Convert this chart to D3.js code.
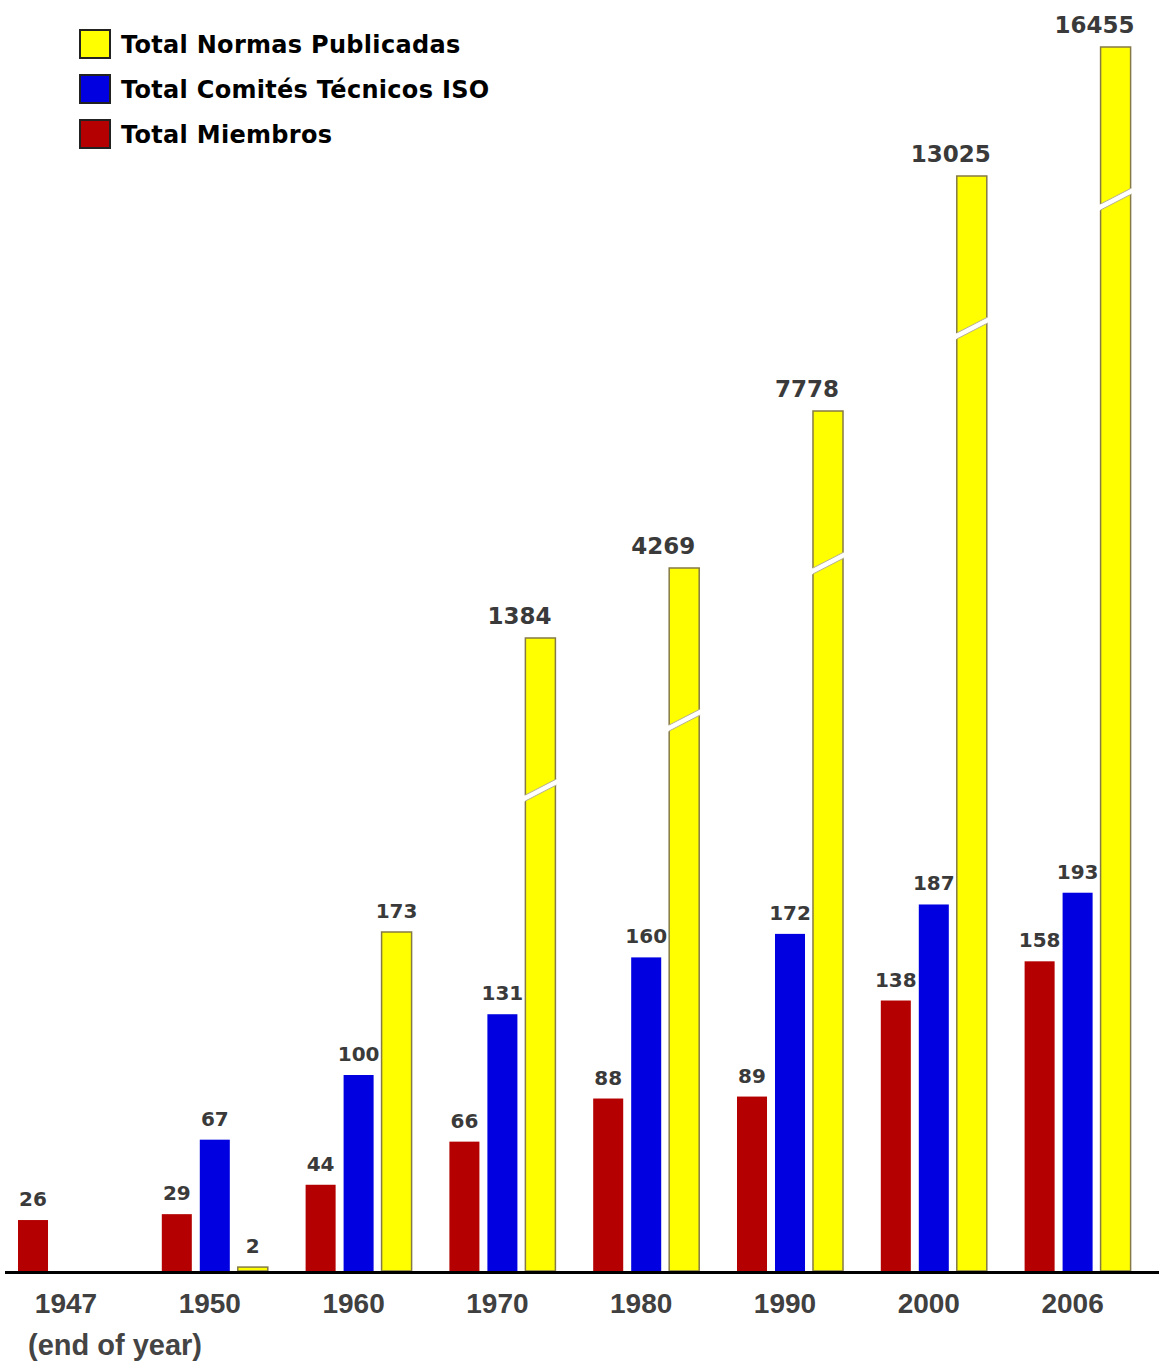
<!DOCTYPE html>
<html>
<head>
<meta charset="utf-8">
<script src="https://cdn.jsdelivr.net/npm/d3@7"></script>
<style>
  body { margin: 0; background: #fff; }
  #container { width: 1159px; height: 1363px; }
</style>
</head>
<body>
<div id="container"></div>
<script>
// ISO: miembros, comités técnicos y normas publicadas por año
var years = ["1947", "1950", "1960", "1970", "1980", "1990", "2000", "2006"]
var members = [26, 29, 44, 66, 88, 89, 138, 158]
var committees = [null, 67, 100, 131, 160, 172, 187, 193]
var standards = [null, 2, 173, 1384, 4269, 7778, 13025, 16455]

var seriesKeys = ["members", "committees", "standards"]
var legendLabels = ["Total Normas Publicadas", "Total Comités Técnicos ISO", "Total Miembros"]
var legendKeys = ["standards", "committees", "members"]
var colors = { members: "#b40000", committees: "#0000e0", standards: "#ffff00" }

var svg = d3.select("#container").append("svg")
    .attr("width", 1159)
    .attr("height", 1363)

var base = 1271

var x = d3.scaleBand()
    .domain(years)
    .range([18, 18 + 8 * 143.8])

var xs = d3.scaleBand()
    .domain(seriesKeys)
    .range([0, 106])
    .paddingInner(0.21)

// linear scale for members and committees
var y = d3.scaleLinear()
    .domain([0, 200])
    .range([base, base - 392])

// broken axis for published standards (bars drawn with a cut)
var yStd = d3.scaleLinear()
    .domain([0, 173, 1384, 4269, 7778, 13025, 16455])
    .range([base, 932, 638, 568, 411, 176, 47])

var rows = []
years.forEach(function(yr, i) {
  rows.push({ year: yr, key: "members", value: members[i] })
  rows.push({ year: yr, key: "committees", value: committees[i] })
  rows.push({ year: yr, key: "standards", value: standards[i] })
})
rows = rows.filter(function(d) { return d.value != null })

function barTop(d) {
  return d.key == "standards" ? yStd(d.value) : y(d.value)
}

function isBroken(d) {
  return d.key == "standards" && d.value > 1000
}

var bars = svg.append("g")

bars.selectAll("rect")
    .data(rows)
  .enter().append("rect")
    .attr("x", function(d) { return x(d.year) + xs(d.key) })
    .attr("y", barTop)
    .attr("width", xs.bandwidth())
    .attr("height", function(d) { return base - barTop(d) })
    .attr("fill", function(d) { return colors[d.key] })
    .attr("stroke", function(d) { return d.key == "standards" ? "#857a45" : "none" })
    .attr("stroke-width", 1.5)

// cuts on the broken yellow bars
var cuts = bars.selectAll(".cut")
    .data(rows.filter(isBroken))
  .enter().append("g")
    .attr("class", "cut")
    .attr("transform", function(d) {
      return "translate(" + (x(d.year) + xs(d.key)) + "," + (barTop(d) + 150) + ")"
    })

cuts.append("path")
    .attr("d", "M-2,8 L33,-10 L33,-4 L-2,14 Z")
    .attr("fill", "#fff")

cuts.append("path")
    .attr("d", "M0,7 L31,-9 M0,13 L31,-3")
    .attr("stroke", "#b8b090")
    .attr("stroke-width", 1)

// value labels
svg.append("g").selectAll("text")
    .data(rows)
  .enter().append("text")
    .attr("x", function(d) {
      return x(d.year) + xs(d.key) + xs.bandwidth() / 2 - (isBroken(d) ? 21 : 0)
    })
    .attr("y", function(d) { return barTop(d) - 14 })
    .attr("text-anchor", "middle")
    .attr("font-family", "DejaVu Sans, sans-serif")
    .attr("font-weight", "bold")
    .attr("font-size", function(d) { return isBroken(d) ? 23 : 20 })
    .attr("fill", "#3a3a3a")
    .text(function(d) { return d.value })

// baseline
svg.append("line")
    .attr("x1", 5)
    .attr("x2", 1159)
    .attr("y1", base + 1.5)
    .attr("y2", base + 1.5)
    .attr("stroke", "#000")
    .attr("stroke-width", 3)

// year labels
svg.append("g").selectAll("text")
    .data(years)
  .enter().append("text")
    .attr("x", function(d) { return x(d) + 48 })
    .attr("y", 1313)
    .attr("text-anchor", "middle")
    .attr("font-family", "Liberation Sans, Arial, sans-serif")
    .attr("font-weight", "bold")
    .attr("font-size", 28)
    .attr("fill", "#404040")
    .text(function(d) { return d })

svg.append("text")
    .attr("x", 28)
    .attr("y", 1355)
    .attr("font-family", "Liberation Sans, Arial, sans-serif")
    .attr("font-weight", "bold")
    .attr("font-size", 29)
    .attr("fill", "#444")
    .text("(end of year)")

// legend
var legend = svg.append("g")
    .selectAll("g")
    .data(legendKeys)
  .enter().append("g")
    .attr("transform", function(d, i) { return "translate(80," + (30 + i * 45) + ")" })

legend.append("rect")
    .attr("width", 30)
    .attr("height", 28)
    .attr("fill", function(d) { return colors[d] })
    .attr("stroke", "#222")
    .attr("stroke-width", 2)

legend.append("text")
    .attr("x", 41)
    .attr("y", 23)
    .attr("font-family", "DejaVu Sans, sans-serif")
    .attr("font-weight", "bold")
    .attr("font-size", 24)
    .attr("letter-spacing", 0.3)
    .attr("fill", "#000")
    .text(function(d, i) { return legendLabels[i] })
</script>
</body>
</html>
